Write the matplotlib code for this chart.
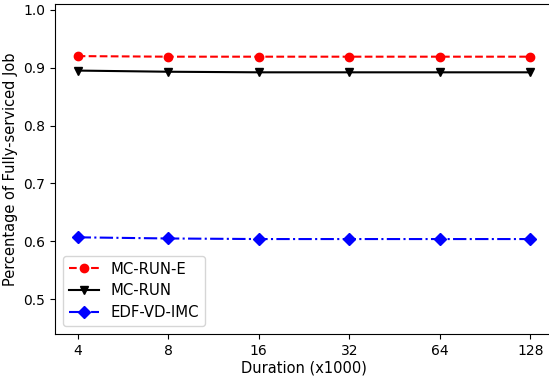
import matplotlib
matplotlib.use("Agg")
import matplotlib.pyplot as plt
import numpy as np

durations = ["4", "8", "16", "32", "64", "128"]
mc_run_e = [0.920, 0.919, 0.919, 0.919, 0.919, 0.919]
mc_run = [0.895, 0.893, 0.892, 0.892, 0.892, 0.892]
edf_vd_imc = [0.607, 0.605, 0.604, 0.604, 0.604, 0.604]

fig = plt.figure(figsize=(5.49, 3.77), dpi=100)
ax = fig.add_axes([55/549, 43/377, 498/549, 330/377])
x = np.arange(len(durations))
ax.plot(x, mc_run_e, color="red", linestyle="--", marker="o", markersize=6, label="MC-RUN-E")
ax.plot(x, mc_run, color="black", linestyle="-", marker="v", markersize=6, label="MC-RUN")
ax.plot(x, edf_vd_imc, color="blue", linestyle="-.", marker="D", markersize=6, label="EDF-VD-IMC")
ax.set_xticks(x)
ax.set_xticklabels(durations)
ax.set_xlim(-0.25, 5.25)
ax.set_ylim(0.44, 1.01)
ax.set_yticks([0.5, 0.6, 0.7, 0.8, 0.9, 1.0])
ax.tick_params(labelsize=10)
ax.set_xlabel("Duration (x1000)", fontsize=10.5, labelpad=2)
ax.set_ylabel("Percentage of Fully-serviced Job", fontsize=10.5)
ax.legend(loc="lower left", fontsize=10.7, borderaxespad=0.55, labelspacing=0.45)
fig.savefig("out.png", dpi=100)
